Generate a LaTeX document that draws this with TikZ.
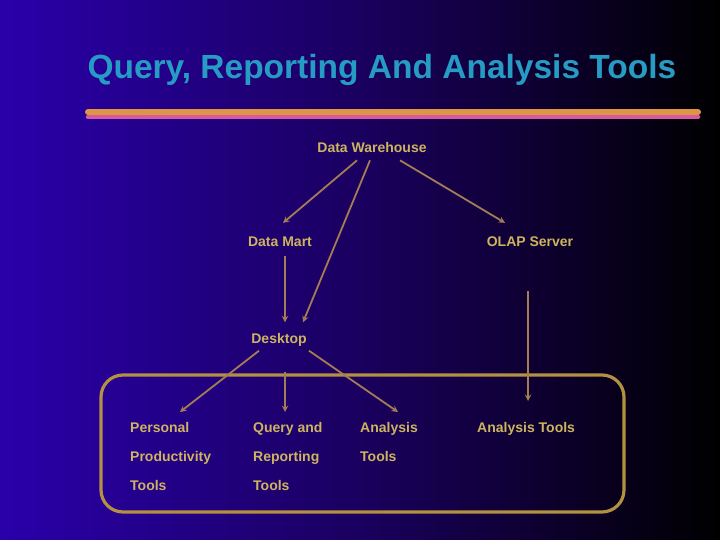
\documentclass[tikz,border=0pt]{standalone}
\usepackage{fontspec}
\setmainfont{Liberation Sans}
\usetikzlibrary{arrows,shapes,positioning}
\definecolor{bgBlue}{RGB}{42,0,170}
\definecolor{bgMid}{RGB}{26,0,95}
\definecolor{titleCyan}{RGB}{38,155,195}
\definecolor{lineOrange}{RGB}{220,150,70}
\definecolor{linePink}{RGB}{215,90,160}
\definecolor{labelGold}{RGB}{205,180,95}
\definecolor{arrowTan}{RGB}{165,125,85}
\definecolor{boxGold}{RGB}{180,145,65}
\tikzstyle{arrow} = [->, >=stealth, color = arrowTan, line width = 1.8pt]
\tikzstyle{stdNode} = [text = labelGold, font = \bfseries\fontsize{14}{29}\selectfont, inner sep = 0pt]
\tikzstyle{toolNode} = [stdNode, align = left, anchor = north west]
\tikzstyle{toolBox} = [draw = boxGold, line width = 3.2pt, rounded corners = 22pt]

\begin{document}
\begin{tikzpicture}[x=1pt, y=-1pt]
	\shade [left color = bgBlue, right color = black, middle color = bgMid] (0,0) rectangle (720,540);
	\useasboundingbox (0,0) rectangle (720,540);
	\node (title) [text = titleCyan, font = \bfseries\fontsize{33.5}{40}\selectfont, anchor = west] at (84,70) {
		Query, Reporting And Analysis Tools
	};
	% underline of the title
	\draw [lineOrange, line width = 6pt, line cap = round] (88,112) -- (698,112);
	\draw [linePink, line width = 4.5pt, line cap = round] (88,117) -- (698,117);
	\node (dw) [stdNode] at (372,147) {
		Data Warehouse
	};
	\node (mart) [stdNode] at (280,242) {
		Data Mart
	};
	\node (olap) [stdNode] at (530,242) {
		OLAP Server
	};
	\node (desk) [stdNode] at (279,340) {
		Desktop
	};
	\draw [toolBox] (101,375) rectangle (624,512);
	\node (ppt) [toolNode] at (130,422) {
		Personal\\Productivity\\Tools
	};
	\node (qrt) [toolNode] at (253,422) {
		Query and\\Reporting\\Tools
	};
	\node (at1) [toolNode] at (360,422) {
		Analysis\\Tools
	};
	\node (at2) [toolNode] at (477,422) {
		Analysis Tools
	};
	\draw [arrow] ([xshift=-15pt]dw.south) ++(0,8) -- ([shift={(3,-14)}]mart.north);
	\draw [arrow] ([xshift=-2pt]dw.south) ++(0,8) -- ([shift={(24,-11)}]desk.north);
	\draw [arrow] ([xshift=28pt]dw.south) ++(0,8) -- ([shift={(-25,-14)}]olap.north);
	\draw [arrow] ([xshift=5pt]mart.south) ++(0,9) -- ([shift={(6,-11)}]desk.north);
	\draw [arrow] ([xshift=-2pt]olap.south) ++(0,44) -- ([shift={(51,-21)}]at2.north west);
	\draw [arrow] ([xshift=-20pt]desk.south) ++(0,4) -- ([shift={(50,-10)}]ppt.north west);
	\draw [arrow] ([xshift=6pt]desk.south) ++(0,25) -- ([shift={(32,-10)}]qrt.north west);
	\draw [arrow] ([xshift=30pt]desk.south) ++(0,4) -- ([shift={(38,-10)}]at1.north west);
\end{tikzpicture}
\end{document}
